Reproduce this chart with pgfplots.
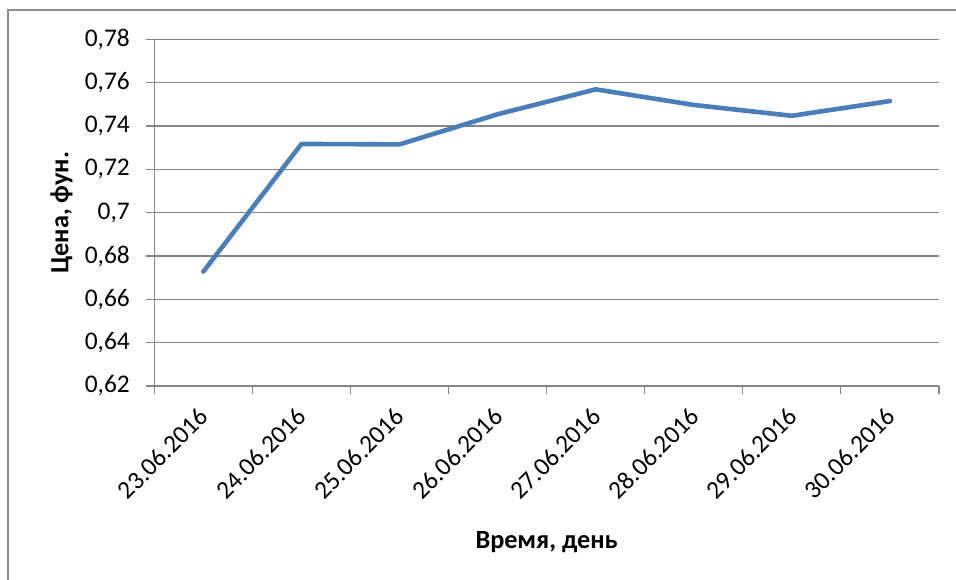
\documentclass[border=0pt]{standalone}
\usepackage{fontspec}
\setmainfont{Carlito}
\usepackage{pgfplots}
\usepackage{pgfplotstable}
\pgfplotsset{compat=1.18}
\definecolor{excelblue}{HTML}{4A7EBB}
\definecolor{gridgray}{HTML}{868686}
\definecolor{framegray}{HTML}{8C8C8C}
\pgfplotstableread{
x y
1 0.6728
2 0.7317
3 0.7315
4 0.7454
5 0.7569
6 0.7497
7 0.7447
8 0.7515
}\pricedata
\begin{document}
\begin{tikzpicture}
\path[use as bounding box] (0,0) rectangle (956bp,580bp);
\draw[framegray, line width=1.3bp] (8bp,0) -- (8bp,570bp) -- (956bp,570bp);
\begin{axis}[
  at={(154.3bp,194bp)}, anchor=south west,
  scale only axis, width=784.7bp, height=346.7bp,
  xmin=0.5, xmax=8.5, ymin=0.62, ymax=0.78,
  axis x line=bottom, axis y line=left,
  axis line style={gridgray, line width=1.1bp, -},
  xtick={1,2,3,4,5,6,7,8},
  xticklabels={23.06.2016,24.06.2016,25.06.2016,26.06.2016,27.06.2016,28.06.2016,29.06.2016,30.06.2016},
  minor xtick={0.5,1.5,2.5,3.5,4.5,5.5,6.5,7.5,8.5},
  ytick={0.62,0.64,0.66,0.68,0.7,0.72,0.74,0.76,0.78},
  tick align=outside,
  x tick style={draw=none},
  minor x tick style={draw=gridgray, line width=1.1bp},
  minor tick length=8bp,
  y tick style={gridgray, line width=1.1bp},
  major tick length=8bp,
  ymajorgrids=true, xmajorgrids=false, xminorgrids=false,
  grid style={gridgray, line width=1.1bp},
  /pgf/number format/assume math mode=true,
  /pgf/number format/use comma,
  yticklabel style={font=\fontsize{25.5}{29}\selectfont, xshift=-13bp, /pgf/number format/fixed, /pgf/number format/precision=2},
  xticklabel style={font=\fontsize{25.5}{29}\selectfont, xshift=3bp, yshift=-16bp, rotate=45, anchor=east},
  xlabel={Время, день},
  ylabel={Цена, фун.},
  xlabel style={font=\bfseries\fontsize{26.4}{30}\selectfont, at={(axis description cs:0.5,-0.4681)}, anchor=base},
  ylabel style={font=\bfseries\fontsize{26.4}{30}\selectfont, at={(axis description cs:-0.10934,0.5)}, anchor=base},
  clip=false,
]
\addplot[excelblue, line width=4.6bp, line cap=round, line join=round] table[x=x, y=y] {\pricedata};
\end{axis}
\end{tikzpicture}
\end{document}
